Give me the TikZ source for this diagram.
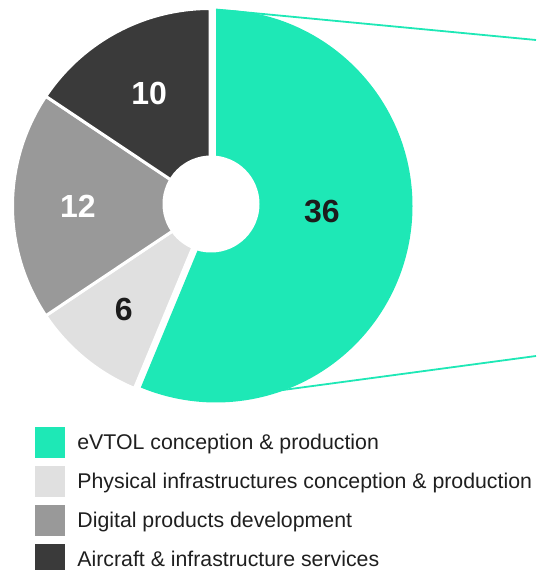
\documentclass[tikz,border=0pt]{standalone}
\usepackage{fontspec}
\setmainfont{Liberation Sans}
\usepackage{xcolor}
\usepackage{tikz}
\usetikzlibrary{positioning}

\definecolor{evtol}{HTML}{1EE8B6}
\definecolor{infra}{HTML}{E0E0E0}
\definecolor{digital}{HTML}{999999}
\definecolor{services}{HTML}{3A3A3A}
\definecolor{numdark}{HTML}{1C1C1C}

\tikzset{
  slice/.style={draw=white, line width=3pt},
  num/.style={font=\fontsize{32}{36}\selectfont\bfseries, inner sep=0pt},
  legbox/.style={minimum width=30pt, minimum height=31pt, inner sep=0pt},
  legtext/.style={font=\fontsize{21.3}{25}\selectfont, inner sep=0pt,
    text height=15pt, text depth=1.4pt, anchor=west, text=black!88},
  zoomline/.style={draw=evtol, line width=1.8pt}
}

\begin{document}
\begin{tikzpicture}[x=1pt, y=1pt]
  \useasboundingbox (0,0) rectangle (536,570);
  \def\radius{197.5}
  \def\gradius{196.5}
  \def\hole{48.5}

  \coordinate (pie) at (210,364);
  \coordinate (gc) at (216,364);
  \path (gc) ++(90:\gradius) coordinate (topstart);
  \path (gc) ++(-90:193) coordinate (botstart);
  \coordinate (topend) at (536,530);
  \coordinate (botend) at (536,214);

  % lines to the next chart
  \draw[zoomline] (topstart) -- (topend);
  \draw[zoomline] (botstart) -- (botend);

  % slices
  \fill[evtol] (gc) -- (topstart) arc[start angle=90, end angle=-112.5, radius=\gradius] -- cycle;
  \filldraw[slice, fill=infra] (pie) -- ++(-112.5:\radius) arc[start angle=-112.5, end angle=-146.25, radius=\radius] -- cycle;
  \filldraw[slice, fill=digital] (pie) -- ++(-146.25:\radius) arc[start angle=-146.25, end angle=-213.75, radius=\radius] -- cycle;
  \filldraw[slice, fill=services] (pie) -- ++(-213.75:\radius) arc[start angle=-213.75, end angle=-270, radius=\radius] -- cycle;
  \fill[white] (211,366) circle[radius=\hole];

  \path (gc) ++(-3.1:106) node[num, text=numdark] (n36) {36};
  \path (pie) ++(-129.7:135) node[num, text=numdark] (n6) {6};
  \path (pie) ++(180:132) node[num, text=white] (n12) {12};
  \path (pie) ++(118.4:128) node[num, text=white] (n10) {10};

  % legend
  \node[legbox, fill=evtol] (key1) at (50,127.5) {};
  \node[legbox, fill=infra, below=7.5pt of key1] (key2) {};
  \node[legbox, fill=digital, below=7.5pt of key2] (key3) {};
  \node[legbox, fill=services, below=7.5pt of key3] (key4) {};

  \node[legtext, right=12pt of key1] (lab1) {eVTOL conception \& production};
  \node[legtext, right=12pt of key2] (lab2) {Physical infrastructures conception \& production};
  \node[legtext, right=12pt of key3] (lab3) {Digital products development};
  \node[legtext, right=12pt of key4] (lab4) {Aircraft \& infrastructure services};

\end{tikzpicture}
\end{document}
